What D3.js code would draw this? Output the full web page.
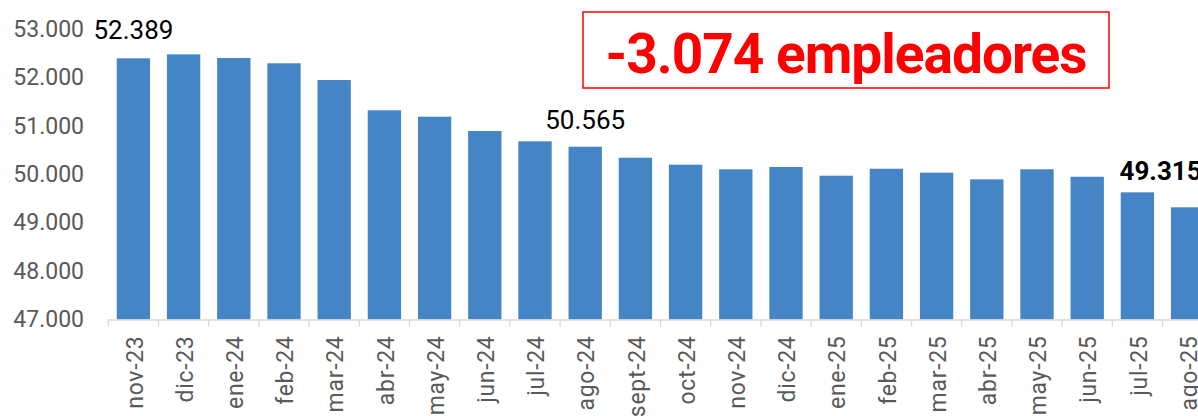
<!DOCTYPE html>
<html>
<head>
<meta charset="utf-8">
<script src="https://cdn.jsdelivr.net/npm/d3@7"></script>
<style>
  html, body { margin: 0; padding: 0; background: #fff; overflow: hidden; }
  svg { display: block; font-family: Roboto, "Noto Sans", sans-serif; }
</style>
</head>
<body>
<div id="chart"></div>
<script>
// Empleadores por mes
var months = ['nov-23', 'dic-23', 'ene-24', 'feb-24', 'mar-24', 'abr-24', 'may-24',
  'jun-24', 'jul-24', 'ago-24', 'sept-24', 'oct-24', 'nov-24', 'dic-24', 'ene-25',
  'feb-25', 'mar-25', 'abr-25', 'may-25', 'jun-25', 'jul-25', 'ago-25'];
var employers = [52389, 52471, 52395, 52286, 51941, 51316, 51184,
  50889, 50676, 50565, 50338, 50194, 50099, 50146, 49967,
  50111, 50029, 49892, 50099, 49946, 49624, 49315];
var yTicks = [47000, 48000, 49000, 50000, 51000, 52000, 53000];
var labelled = ['nov-23', 'ago-24', 'ago-25'];
var headline = '-3.074 empleadores';

var width = 1198;
var height = 416;

// Spanish thousands separator
var fmt = d3.formatLocale({ decimal: ',', thousands: '.', grouping: [3], currency: ['', '€'] }).format(',.0f');

var svg = d3.select('#chart')
  .append('svg')
  .attr('width', width)
  .attr('height', height);

// Scales (the plot runs past the right edge, like the original cut)
var x = d3.scaleBand()
  .domain(months)
  .range([108.3, 108.3 + months.length * 50.2])
  .paddingInner(0.336)
  .paddingOuter(0.168);

var y = d3.scaleLinear()
  .domain([47000, 53000])
  .range([319.5, 28.7]);

var step = x.step();

// Bars
svg.append('g')
  .selectAll('rect')
  .data(months)
  .enter()
  .append('rect')
  .attr('x', function (d) { return x(d); })
  .attr('y', function (d, i) { return y(employers[i]); })
  .attr('width', x.bandwidth())
  .attr('height', function (d, i) { return y(47000) - y(employers[i]); })
  .attr('fill', '#4585c5');

// Y axis labels, no line
var yAxis = d3.axisLeft(y)
  .tickValues(yTicks)
  .tickSize(0)
  .tickPadding(0)
  .tickFormat(fmt);
svg.append('g')
  .attr('transform', 'translate(84,0)')
  .call(yAxis)
  .call(function (g) { g.select('.domain').remove(); })
  .selectAll('text')
  .attr('fill', '#595959')
  .attr('font-size', '23px')
  .attr('font-family', 'Roboto, sans-serif');

// X axis: baseline, ticks between categories, rotated labels
var xg = svg.append('g');
var x0 = x.range()[0];
xg.append('line')
  .attr('x1', x0)
  .attr('x2', width)
  .attr('y1', y(47000) + 0.5)
  .attr('y2', y(47000) + 0.5)
  .attr('stroke', '#d9d9d9')
  .attr('stroke-width', 1.3);

xg.selectAll('.tick')
  .data(months.concat(['end']))
  .enter()
  .append('line')
  .attr('class', 'tick')
  .attr('x1', function (d, i) { return x0 + i * step; })
  .attr('x2', function (d, i) { return x0 + i * step; })
  .attr('y1', y(47000))
  .attr('y2', y(47000) + 7)
  .attr('stroke', '#d9d9d9')
  .attr('stroke-width', 1.3);

xg.selectAll('.xlabel')
  .data(months)
  .enter()
  .append('text')
  .attr('class', 'xlabel')
  .attr('transform', function (d) {
    return 'translate(' + (x(d) + x.bandwidth() / 2) + ',' + (y(47000) + 16) + ') rotate(-90)';
  })
  .attr('dy', '0.4em')
  .attr('text-anchor', 'end')
  .attr('fill', '#595959')
  .attr('font-size', '23px')
  .attr('letter-spacing', '0.7px')
  .text(function (d) { return d; });

// Data labels for three bars
var labelStyle = {
  'nov-23': { dx: 0, dy: -19, weight: 'normal' },
  'ago-24': { dx: 0, dy: -18, weight: 'normal' },
  'ago-25': { dx: -27, dy: -27, weight: 'bold' }
};
svg.append('g')
  .selectAll('text')
  .data(labelled)
  .enter()
  .append('text')
  .attr('x', function (d) { return x(d) + x.bandwidth() / 2 + labelStyle[d].dx; })
  .attr('y', function (d) { return y(employers[months.indexOf(d)]) + labelStyle[d].dy; })
  .attr('text-anchor', 'middle')
  .attr('font-size', '26px')
  .attr('font-weight', function (d) { return labelStyle[d].weight; })
  .attr('fill', '#000')
  .text(function (d) { return fmt(employers[months.indexOf(d)]); });

// Headline box
var box = svg.append('g');
box.append('rect')
  .attr('x', 583)
  .attr('y', 12)
  .attr('width', 526)
  .attr('height', 76)
  .attr('fill', '#fff')
  .attr('stroke', '#ff0000')
  .attr('stroke-width', 1.5);
box.append('text')
  .attr('x', 846)
  .attr('y', 72.5)
  .attr('text-anchor', 'middle')
  .attr('font-size', '55px')
  .attr('font-weight', 'bold')
  .attr('letter-spacing', '-1px')
  .attr('fill', '#ff0000')
  .text(headline);
</script>
</body>
</html>
